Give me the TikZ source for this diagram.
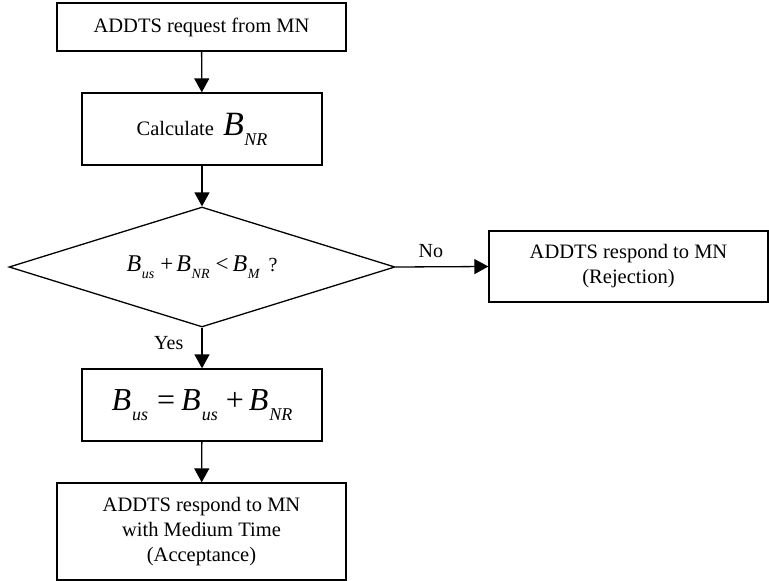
\documentclass[tikz,border=0pt]{standalone}
\usepackage{fontspec}
\setmainfont{Liberation Serif}
\usetikzlibrary{arrows.meta,shapes.geometric}

% italic B with a lowered italic subscript
\newcommand\Bsym[3]{{\fontsize{#1}{#1}\selectfont\itshape B}\kern0.03em\raisebox{-0.3\dimexpr#1\relax}{\fontsize{#2}{#2}\selectfont\itshape #3}}

\tikzset{
  stepbox/.style={draw, line width=1.3pt, rectangle, inner sep=0pt, align=center,
    font=\fontsize{20.5pt}{25pt}\selectfont},
  decision/.style={draw, line width=1.3pt, diamond, aspect=3.2, inner sep=0pt, align=center},
  flow/.style={line width=1.3pt, -{Triangle[length=14pt,width=15pt]}},
  tag/.style={font=\fontsize{20pt}{24pt}\selectfont, inner sep=0pt}
}

\begin{document}
\begin{tikzpicture}[x=1pt,y=-1pt]
\useasboundingbox (0,0) rectangle (769,581);

\node[stepbox, minimum width=289pt, minimum height=48pt] (req) at (201.5,27) {ADDTS request from MN};
\node[stepbox, minimum width=240pt, minimum height=72pt] (calc) at (202,129)
  {Calculate\hspace{9pt}\Bsym{34pt}{18pt}{NR}};
\node[decision, minimum width=386pt, minimum height=120pt] (test) at (202,267)
  {\fontsize{23pt}{23pt}\selectfont\Bsym{24pt}{14pt}{us}\hspace{6pt}+\hspace{3pt}\Bsym{24pt}{14pt}{NR}\hspace{6pt}<\hspace{4pt}\Bsym{24pt}{14pt}{M}\hspace{9pt}{\fontsize{20pt}{20pt}\selectfont ?}};
\node[stepbox, minimum width=279pt, minimum height=71pt] (reject) at (628.5,266.5)
  {ADDTS respond to MN\\(Rejection)};
\node[stepbox, minimum width=240pt, minimum height=72pt] (update) at (202,405)
  {{\fontsize{32pt}{32pt}\selectfont\Bsym{32pt}{18pt}{us}\hspace{9pt}=\hspace{6pt}\Bsym{32pt}{18pt}{us}\hspace{8pt}+\hspace{5pt}\Bsym{32pt}{18pt}{NR}}};
\node[stepbox, minimum width=289pt, minimum height=97pt] (accept) at (201.5,531.5)
  {ADDTS respond to MN\\with Medium Time\\(Acceptance)};

\draw[flow] (req) -- (calc);
\draw[flow] (calc) -- (test);
\draw[flow] (test.east) -- node[tag, pos=0.38, above=8pt] (no) {No} (reject.west);
\draw[flow] (test.south) -- node[tag, pos=0.38, left=18pt] (yes) {Yes} (update.north);
\draw[flow] (update) -- (accept);
\end{tikzpicture}
\end{document}
